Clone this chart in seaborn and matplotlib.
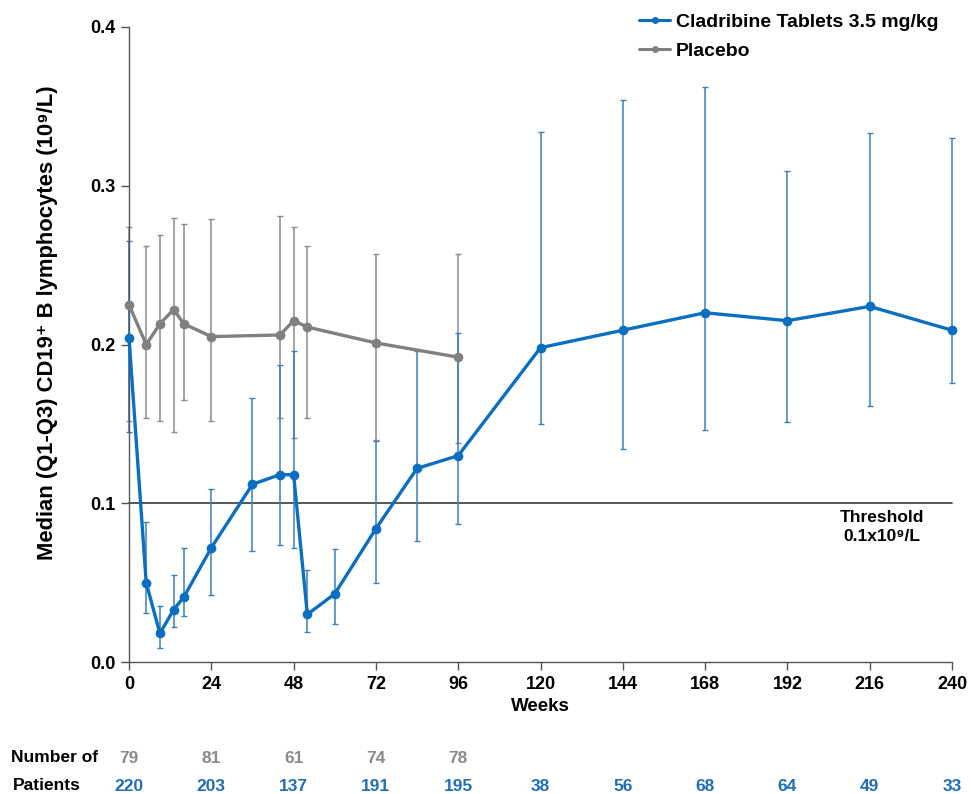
import numpy as np
import pandas as pd
import matplotlib
matplotlib.use("Agg")
import matplotlib.pyplot as plt
import seaborn as sns

# Cladribine arm: weeks, median, Q1, Q3
clad_weeks = [0, 5, 9, 13, 16, 24, 36, 44, 48, 52, 60, 72, 84, 96, 120, 144, 168, 192, 216, 240]
clad_median = [0.204, 0.050, 0.018, 0.033, 0.041, 0.072, 0.112, 0.118, 0.118, 0.030, 0.043,
               0.084, 0.122, 0.130, 0.198, 0.209, 0.220, 0.215, 0.224, 0.209]
clad_q1 = [0.145, 0.031, 0.009, 0.022, 0.029, 0.042, 0.070, 0.074, 0.072, 0.019, 0.024,
           0.050, 0.076, 0.087, 0.150, 0.134, 0.146, 0.151, 0.161, 0.176]
clad_q3 = [0.265, 0.088, 0.035, 0.055, 0.072, 0.109, 0.166, 0.187, 0.196, 0.058, 0.071,
           0.139, 0.196, 0.207, 0.334, 0.354, 0.362, 0.309, 0.333, 0.330]

# Placebo arm
plac_weeks = [0, 5, 9, 13, 16, 24, 44, 48, 52, 72, 96]
plac_median = [0.225, 0.200, 0.213, 0.222, 0.213, 0.205, 0.206, 0.215, 0.211, 0.201, 0.192]
plac_q1 = [0.152, 0.154, 0.152, 0.145, 0.165, 0.152, 0.154, 0.141, 0.154, 0.140, 0.138]
plac_q3 = [0.274, 0.262, 0.269, 0.280, 0.276, 0.279, 0.281, 0.274, 0.262, 0.257, 0.257]

# Number of patients at risk
count_weeks = [0, 24, 48, 72, 96, 120, 144, 168, 192, 216, 240]
plac_counts = [79, 81, 61, 74, 78]
clad_counts = [220, 203, 137, 191, 195, 38, 56, 68, 64, 49, 33]

BLUE = "#0a6fc2"
BLUE_ERR = "#3a7fc4"
GRAY = "#808080"

sns.set_style("white")
plt.rcParams["font.family"] = ["Liberation Sans", "DejaVu Sans"]
plt.rcParams["font.weight"] = "bold"
plt.rcParams["text.color"] = "black"
plt.rcParams["axes.labelcolor"] = "black"
plt.rcParams["xtick.color"] = "black"
plt.rcParams["ytick.color"] = "black"

fig = plt.figure(figsize=(9.71, 7.94), dpi=100)
ax = fig.add_axes([0.1329, 0.1662, 0.8475, 0.7998])

# threshold line
ax.axhline(0.1, color="#3a3a3a", lw=1.2, zorder=1)

clad = pd.DataFrame({"week": clad_weeks, "median": clad_median, "q1": clad_q1, "q3": clad_q3})
plac = pd.DataFrame({"week": plac_weeks, "median": plac_median, "q1": plac_q1, "q3": plac_q3})

# IQR bars
for df, col in [(plac, "#8c8c8c"), (clad, BLUE_ERR)]:
    eb = ax.errorbar(df["week"], df["median"],
                     yerr=[df["median"] - df["q1"], df["q3"] - df["median"]],
                     fmt="none", ecolor=col, elinewidth=1.1, capsize=2.5, capthick=1.0, zorder=2)
    for art in eb.lines[1] + eb.lines[2]:
        art.set_clip_on(False)

sns.lineplot(data=plac, x="week", y="median", ax=ax, color=GRAY, lw=2.4,
             marker="o", markersize=7, markeredgewidth=0, label="Placebo", zorder=3)
sns.lineplot(data=clad, x="week", y="median", ax=ax, color=BLUE, lw=2.4,
             marker="o", markersize=7, markeredgewidth=0,
             label="Cladribine Tablets 3.5 mg/kg", zorder=4)
for ln in ax.lines:
    ln.set_clip_on(False)

ax.set_xlim(0, 240)
ax.set_ylim(0, 0.4)
ax.set_xticks(np.arange(0, 241, 24))
ax.set_yticks([0.0, 0.1, 0.2, 0.3, 0.4])
ax.set_yticklabels(["0.0", "0.1", "0.2", "0.3", "0.4"])
ax.tick_params(axis="both", labelsize=13, length=6, width=1, color="#555555",
               labelcolor="black", direction="out", bottom=True, left=True, pad=4)
for lab in ax.get_xticklabels() + ax.get_yticklabels():
    lab.set_fontweight("bold")
for s in ["top", "right"]:
    ax.spines[s].set_visible(False)
for s in ["left", "bottom"]:
    ax.spines[s].set_color("#555555")
    ax.spines[s].set_linewidth(1)

ax.set_xlabel("Weeks", fontsize=13.5, fontweight="bold", labelpad=4)
ax.set_ylabel("Median (Q1-Q3) CD19⁺ B lymphocytes (10⁹/L)", fontsize=15.8,
              fontweight="bold")
ax.yaxis.set_label_coords(-0.086, 0.534)

handles, labels = ax.get_legend_handles_labels()
leg = ax.legend(handles[::-1], labels[::-1], loc="upper right", bbox_to_anchor=(0.998, 1.04),
                frameon=False, fontsize=14, handlelength=1.6, handletextpad=0.3,
                labelspacing=0.6, borderaxespad=0.2)
for t in leg.get_texts():
    t.set_fontweight("bold")
for h in leg.legend_handles:
    h.set_markersize(5)
    h.set_linewidth(2.2)

ax.text(219.5, 0.085, "Threshold\n0.1x10⁹/L", ha="center", va="center",
        fontsize=12.5, fontweight="bold", linespacing=1.3)

# number of patients rows
tr = ax.get_xaxis_transform()
for w, n in zip(count_weeks, plac_counts):
    ax.text(w, -0.152, str(n), transform=tr, ha="center", va="center",
            color="#8a8a8a", fontsize=12.5, fontweight="bold", clip_on=False)
for w, n in zip(count_weeks, clad_counts):
    ax.text(w, -0.196, str(n), transform=tr, ha="center", va="center",
            color="#1f6fb8", fontsize=12.5, fontweight="bold", clip_on=False)
fig.text(0.0113, 1 - 758 / 794, "Number of", ha="left", va="center",
         fontsize=12.5, fontweight="bold")
fig.text(0.0134, 1 - 786 / 794, "Patients", ha="left", va="center",
         fontsize=12.5, fontweight="bold")

fig.savefig("out.png", dpi=100)
